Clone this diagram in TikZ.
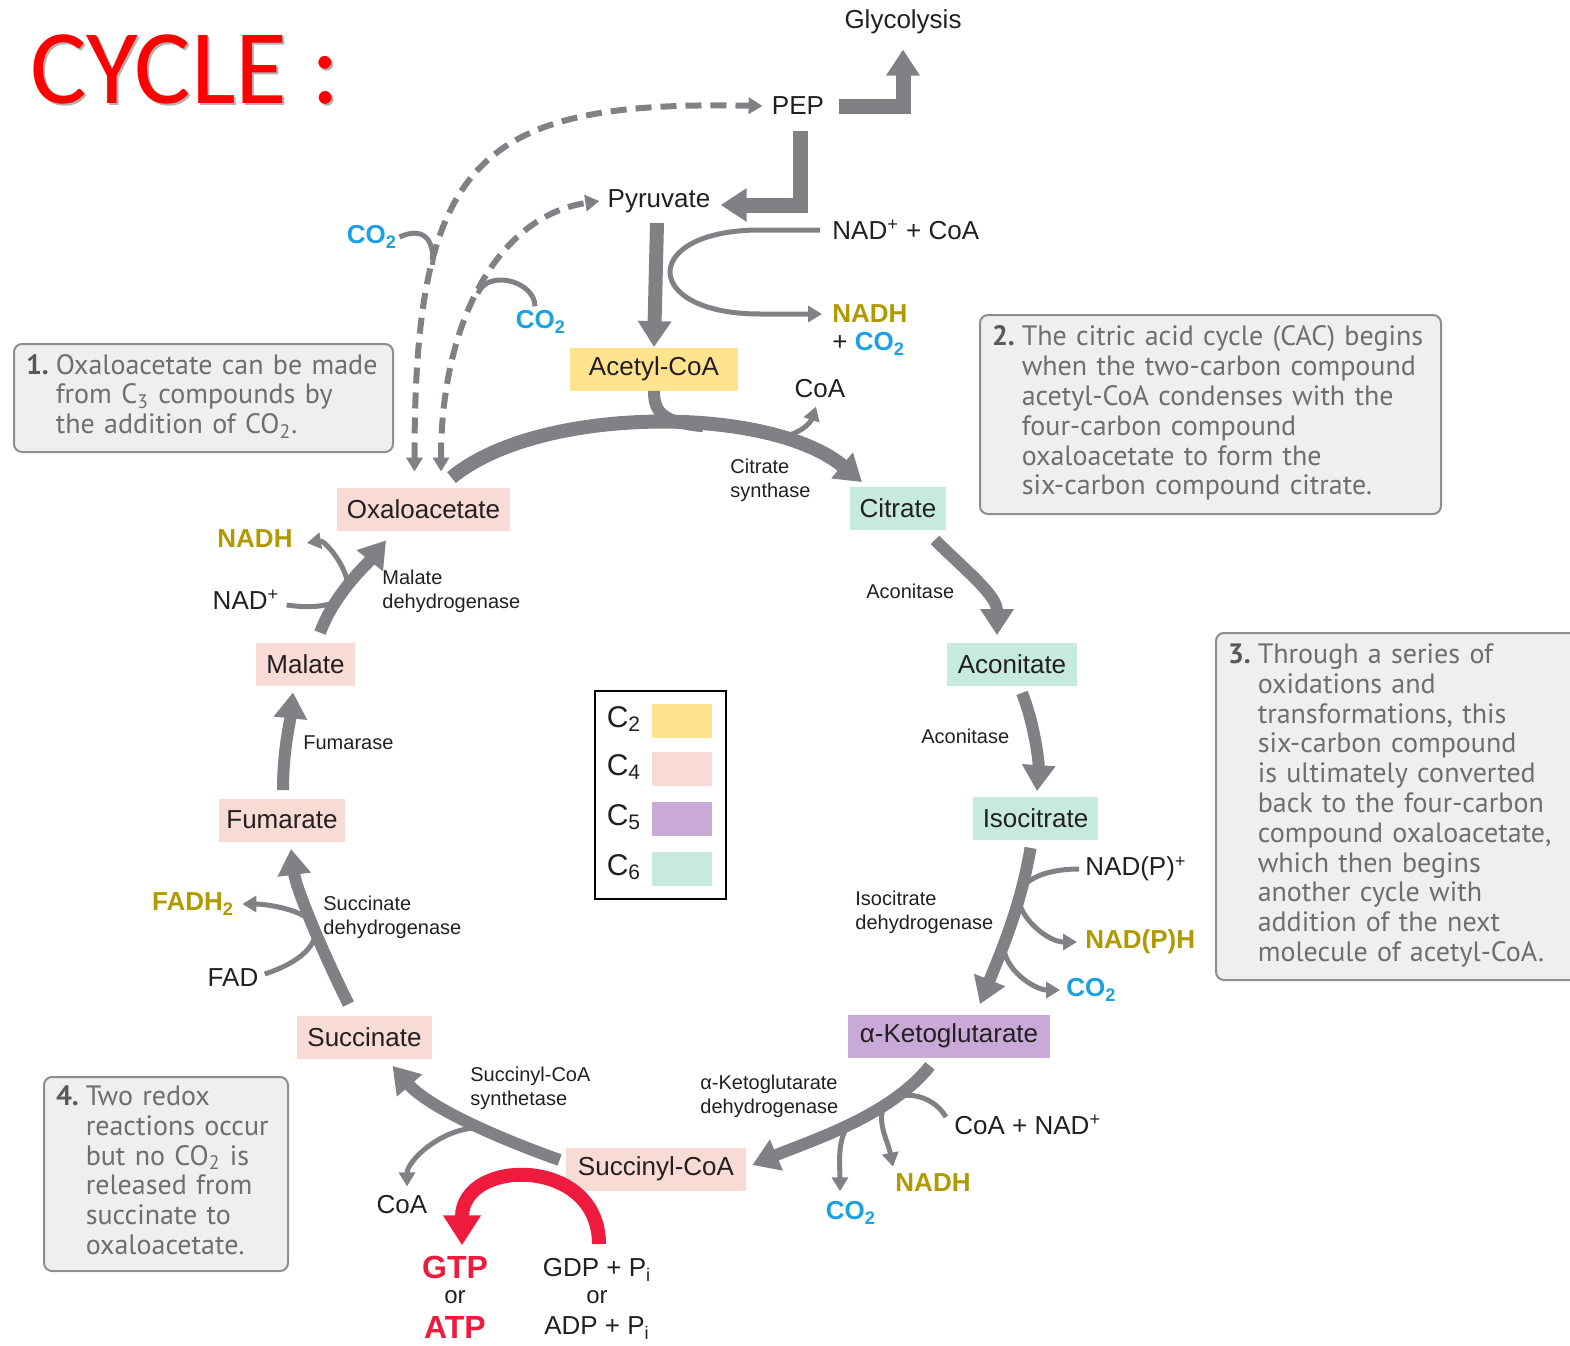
\documentclass[tikz,border=0pt]{standalone}
\usepackage{fontspec}
\setmainfont{Liberation Sans}
\newfontfamily\notefont{PT Sans}
\newfontfamily\titlefont{Carlito}
\usetikzlibrary{arrows.meta,calc}

\definecolor{arrowgray}{RGB}{128,129,133}
\definecolor{ctwo}{HTML}{FFE38E}
\definecolor{cfour}{HTML}{F7DBD4}
\definecolor{cfive}{HTML}{C8A9D7}
\definecolor{csix}{HTML}{C6E9E0}
\definecolor{nadhcol}{HTML}{B09A00}
\definecolor{cotwo}{HTML}{1BA1E2}
\definecolor{atpred}{HTML}{EE1B3E}
\definecolor{notegray}{HTML}{6D6E71}
\definecolor{numgray}{HTML}{58595B}
\definecolor{notefill}{HTML}{EFEFEF}
\definecolor{notebord}{HTML}{8E8E8E}
\definecolor{inkcol}{HTML}{231F20}

\newcommand{\nnum}[1]{\textbf{\color{numgray}#1}}

\tikzset{
  cbox/.style 2 args={fill=#1, minimum width=#2, minimum height=21.5pt, inner sep=0pt,
    font=\fontsize{13}{15}\selectfont, text=inkcol},
  lbl/.style={font=\fontsize{13}{15}\selectfont, text=inkcol, inner sep=1pt},
  nadh/.style={lbl, font=\fontsize{13}{15}\selectfont\bfseries, text=nadhcol},
  co2/.style={lbl, font=\fontsize{13}{15}\selectfont\bfseries, text=cotwo},
  enz/.style={font=\fontsize{10}{12}\selectfont, text=inkcol, align=left, inner sep=0pt, anchor=west},
  gtp/.style={font=\fontsize{16}{18}\selectfont\bfseries, text=atpred, inner sep=0pt},
  orl/.style={font=\fontsize{12}{14}\selectfont, text=inkcol, inner sep=0pt},
  bigarrow/.style={draw=arrowgray, line width=6pt, -{Triangle[width=16pt,length=13pt]}},
  bigline/.style={draw=arrowgray, line width=6pt},
  sidearrow/.style={draw=arrowgray, line width=2.5pt, -{Triangle[width=8pt,length=7pt]}},
  sideline/.style={draw=arrowgray, line width=2.5pt},
  dasharrow/.style={draw=arrowgray, line width=3pt, dash pattern=on 8pt off 4.5pt,
    {Triangle[width=8pt,length=7pt]}-{Triangle[width=8pt,length=7pt]}},
  redarrow/.style={draw=atpred, line width=7pt, -{Triangle[width=18pt,length=15pt]}},
  note/.style={draw=notebord, line width=1pt, rounded corners=4pt, fill=notefill,
    text=notegray, font=\notefont\fontsize{14}{14.9}\selectfont, anchor=north west,
    inner xsep=6pt, inner ysep=0pt, align=left},
  swatch/.style={fill=#1, minimum width=30pt, minimum height=17pt, inner sep=0pt},
  leg/.style={font=\fontsize{15}{17}\selectfont, text=inkcol, inner sep=0pt}
}

\begin{document}
\begin{tikzpicture}[x=0.5pt,y=-0.5pt]
  \useasboundingbox (0,0) rectangle (1570,1345);

  % Title
  \node[anchor=base west, text=black!30, font=\titlefont\fontsize{53}{60}\selectfont] at (25,105) {CYCLE :};
  \node[anchor=base west, text=red, font=\titlefont\fontsize{53}{60}\selectfont] (title) at (23,103) {CYCLE :};

  % Top of the cycle
  \node[lbl] (glyco) at (903,22) {Glycolysis};
  \node[lbl] (pep) at (798,106) {PEP};
  \node[lbl] (pyr) at (659,201) {Pyruvate};
  \node[lbl, anchor=west] (nadcoa) at (830,230) {NAD\textsuperscript{+} + CoA};
  \node[nadh, anchor=west] (nadh0) at (830,314) {NADH};
  \node[lbl, anchor=west] (plusco) at (830,344) {+ \textcolor{cotwo}{\textbf{CO\textsubscript{2}}}};
  \node[co2] (co2a) at (372,237) {CO\textsubscript{2}};
  \node[co2] (co2b) at (541,322) {CO\textsubscript{2}};

  % Compounds of the cycle
  \node[cbox={ctwo}{84pt}] (acetyl) at (654,369) {Acetyl-CoA};
  \node[cbox={cfour}{86.5pt}] (oxa) at (423.5,509.5) {Oxaloacetate};
  \node[cbox={csix}{48pt}] (cit) at (898,508) {Citrate};
  \node[cbox={csix}{65pt}] (acn) at (1012,664) {Aconitate};
  \node[cbox={csix}{62.5pt}] (iso) at (1035.5,818) {Isocitrate};
  \node[cbox={cfive}{101pt}] (akg) at (949,1036) {α-Ketoglutarate};
  \node[cbox={cfour}{90pt}] (sca) at (656,1169) {Succinyl-CoA};
  \node[cbox={cfour}{67.5pt}] (suc) at (364.5,1037) {Succinate};
  \node[cbox={cfour}{63pt}] (fum) at (282,820) {Fumarate};
  \node[cbox={cfour}{49.5pt}] (mal) at (305.5,664.5) {Malate};

  % Enzymes
  \node[enz] (cs) at (730,480) {Citrate\\synthase};
  \node[enz] (acn1) at (866,591) {Aconitase};
  \node[enz] (acn2) at (921,736) {Aconitase};
  \node[enz] (idh) at (855,912) {Isocitrate\\dehydrogenase};
  \node[enz] (akgdh) at (700,1096) {α-Ketoglutarate\\dehydrogenase};
  \node[enz] (scs) at (470,1088) {Succinyl-CoA\\synthetase};
  \node[enz] (sdh) at (323,917) {Succinate\\dehydrogenase};
  \node[enz] (fumase) at (303,743) {Fumarase};
  \node[enz] (mdh) at (382,591) {Malate\\dehydrogenase};

  % Side products
  \node[lbl] (coa1) at (820,389) {CoA};
  \node[lbl, anchor=west] (nadp) at (1083,869) {NAD(P)\textsuperscript{+}};
  \node[nadh, anchor=west] (nadph) at (1083,942) {NAD(P)H};
  \node[co2, anchor=west] (co2c) at (1064,990) {CO\textsubscript{2}};
  \node[lbl, anchor=west] (coanad) at (952,1125) {CoA + NAD\textsuperscript{+}};
  \node[nadh] (nadh2) at (933,1183) {NADH};
  \node[co2] (co2d) at (851,1213) {CO\textsubscript{2}};
  \node[lbl] (coa2) at (402,1205) {CoA};
  \node[gtp] (gtp) at (455,1267) {GTP};
  \node[orl] (or1) at (455,1297) {or};
  \node[gtp] (atp) at (455,1327) {ATP};
  \node[lbl] (gdp) at (597,1270) {GDP + P\textsubscript{i}};
  \node[orl] (or2) at (597,1297) {or};
  \node[lbl] (adp) at (597,1328) {ADP + P\textsubscript{i}};
  \node[nadh] (fadh) at (193,904) {FADH\textsubscript{2}};
  \node[lbl] (fad) at (233,978) {FAD};
  \node[nadh] (nadh1) at (255,539) {NADH};
  \node[lbl] (nadplus) at (246,600) {NAD\textsuperscript{+}};

  % Draw glycolysis arrows
  \draw[bigarrow, line width=7.5pt, -{Triangle[width=16pt,length=13pt]}]
    ($(pep.east)+(13,0)$) -| ($(glyco.south)+(0,13)$);
  \draw[bigarrow, line width=7.5pt] ($(pep.south)+(2,14)$) |- ($(pyr.east)+(8,4)$);
  \draw[bigarrow, line width=7pt] ($(pyr.south)+(-2,8)$) -- (acetyl.north);
  \draw[sidearrow, shorten <=5pt, shorten >=4pt] (nadcoa.west) -- +(-70,0)
    .. controls +(-120,0) and +(-120,0) .. ($(nadh0.west)+(-70,0)$) -- (nadh0.west);

  % Draw dashed arrows
  \draw[dasharrow] ($(oxa.north)+(-9,-16)$) .. controls +(0,-312) and +(-286,-6) ..
    ($(pep.west)+(-7,0)$) coordinate[pos=0.28] (j1);
  \draw[dasharrow] ($(oxa.north)+(17.5,-16)$) .. controls +(0,-152) and +(-100,15) ..
    ($(pyr.west)+(-6,0)$) coordinate[pos=0.47] (j2);
  \draw[sideline] (co2a.east) .. controls +(22,-10) and +(2,-28) .. (j1);
  \draw[sideline] (j2) .. controls +(10,-25) and +(0,-25) .. ($(co2b.north)+(-6,-2)$);

  % Draw cycle arrows
  \draw[bigarrow, line width=7pt] ($(oxa.north)+(28,-10)$) .. controls +(88,-73) and +(-92,-77) ..
    ($(cit.north)+(-36,-4)$) coordinate[pos=0.6] (acj) coordinate[pos=0.75] (coaj);
  \draw[bigline] (acetyl.south) .. controls +(0,22) and +(-40,-4) .. (acj);
  \draw[sidearrow] (coaj) .. controls +(30,-3) and +(-5,15) .. ($(coa1.south)+(-4,6)$);

  \draw[bigarrow] ($(cit.south)+(37,10)$) .. controls +(30,30) and +(0,-40) .. ($(acn.north)+(-15,-7)$);
  \draw[bigarrow] ($(acn.south)+(10,7)$) .. controls +(12,30) and +(2,-30) .. ($(iso.north)+(1.5,-5)$);

  \draw[bigarrow] ($(iso.south)+(-5,8)$) .. controls +(-10,60) and +(20,-50) ..
    ($(akg.north)+(31,-10)$) coordinate[pos=0.3] (iaj) coordinate[pos=0.6] (ibj);
  \draw[sidearrow] ($(nadp.west)+(-4,0)$) .. controls +(-35,0) and +(0,-18) .. (iaj)
    .. controls +(0,18) and +(-30,0) .. ($(nadph.west)+(-6,0)$);
  \draw[sidearrow] (ibj) .. controls +(0,25) and +(-25,0) .. ($(co2c.west)+(-4,0)$);

  \draw[bigarrow] ($(akg.south)+(-19,8)$) .. controls +(-40,50) and +(60,-25) ..
    ($(sca.east)+(6,-4)$) coordinate[pos=0.3] (kaj) coordinate[pos=0.5] (kbj);
  \draw[sidearrow] ($(coanad.west)+(-6,-8)$) .. controls +(-15,-25) and +(12,-15) .. (kaj)
    .. controls +(-10,15) and +(-5,-25) .. ($(nadh2.north west)+(0,-5)$);
  \draw[sidearrow] (kbj) .. controls +(-12,15) and +(0,-25) .. ($(co2d.north)+(-11,-8)$);

  \draw[bigarrow] ($(sca.west)+(-6,-9)$) .. controls +(-70,-25) and +(35,40) ..
    ($(suc.south)+(28,7)$) coordinate[pos=0.4] (saj);
  \draw[sidearrow] (saj) .. controls +(-40,0) and +(0,-25) .. ($(coa2.north)+(5,-7)$);
  \draw[redarrow] ($(gdp.north)+(2,-12)$) .. controls +(0,-88) and +(0,-88) .. ($(gtp.north)+(7,-10)$);

  \draw[bigarrow] ($(suc.north)+(-16,-11)$) .. controls +(-25,-50) and +(5,40) ..
    ($(fum.south)+(9,7)$) coordinate[pos=0.45] (faj);
  \draw[sidearrow] ($(fad.east)+(4,-4)$) .. controls +(25,-8) and +(0,20) .. (faj)
    .. controls +(0,-20) and +(25,0) .. ($(fadh.east)+(6,0)$);

  \draw[bigarrow] ($(fum.north)+(1,-8)$) .. controls +(0,-40) and +(-3,30) .. ($(mal.south)+(-12.5,6)$);

  \draw[bigarrow] ($(mal.north)+(14.5,-10)$) .. controls +(15,-40) and +(-20,25) ..
    ($(oxa.south)+(-37.5,9)$) coordinate[pos=0.45] (maj);
  \draw[sidearrow] ($(nadplus.east)+(5,5)$) .. controls +(35,5) and +(0,18) .. (maj)
    .. controls +(0,-18) and +(18,-3) .. ($(nadh1.east)+(12,4)$);

  % Legend
  \node[draw, line width=1.2pt, minimum width=65.5pt, minimum height=104pt, inner sep=0pt] (legend) at (660.5,795) {};
  \node[swatch=ctwo] (sw2) at (682,721) {};
  \node[swatch=cfour] (sw4) at (682,769) {};
  \node[swatch=cfive] (sw5) at (682,819) {};
  \node[swatch=csix] (sw6) at (682,869) {};
  \node[leg] (l2) at (624,719) {C\textsubscript{2}};
  \node[leg] (l4) at (624,767) {C\textsubscript{4}};
  \node[leg] (l5) at (624,817) {C\textsubscript{5}};
  \node[leg] (l6) at (624,867) {C\textsubscript{6}};

  % Notes
  \node[note, text width=177.5pt, minimum height=54pt] (note1) at (13,343) {%
    \begin{tabular}{@{}l@{\hspace{3.5pt}}l@{}}
    \nnum{1.} & Oxaloacetate can be made\\
     & from C\textsubscript{3} compounds by\\
     & the addition of CO\textsubscript{2}.
    \end{tabular}};
  \node[note, text width=218.5pt, minimum height=99.5pt] (note2) at (979,314) {%
    \begin{tabular}{@{}l@{\hspace{3.5pt}}l@{}}
    \nnum{2.} & The citric acid cycle (CAC) begins\\
     & when the two-carbon compound\\
     & acetyl-CoA condenses with the\\
     & four-carbon compound\\
     & oxaloacetate to form the\\
     & six-carbon compound citrate.
    \end{tabular}};
  \node[note, text width=170.5pt, minimum height=173.5pt] (note3) at (1215,632) {%
    \begin{tabular}{@{}l@{\hspace{3.5pt}}l@{}}
    \nnum{3.} & Through a series of\\
     & oxidations and\\
     & transformations, this\\
     & six-carbon compound\\
     & is ultimately converted\\
     & back to the four-carbon\\
     & compound oxaloacetate,\\
     & which then begins\\
     & another cycle with\\
     & addition of the next\\
     & molecule of acetyl-CoA.
    \end{tabular}};
  \node[note, text width=110pt, minimum height=97pt] (note4) at (43,1076) {%
    \begin{tabular}{@{}l@{\hspace{3.5pt}}l@{}}
    \nnum{4.} & Two redox\\
     & reactions occur\\
     & but no CO\textsubscript{2} is\\
     & released from\\
     & succinate to\\
     & oxaloacetate.
    \end{tabular}};
\end{tikzpicture}
\end{document}
